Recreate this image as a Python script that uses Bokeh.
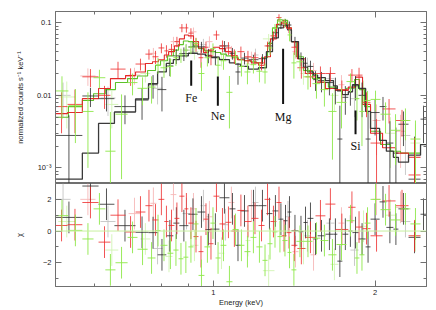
import numpy as np
from bokeh.plotting import figure
from bokeh.layouts import column
from bokeh.models import (Range1d, FixedTicker, CustomJSTickFormatter, LogAxis,
                          LinearAxis, Span)
from bokeh.core.properties import value
from bokeh.embed import file_html
from bokeh.resources import INLINE

# ---------------- data ----------------
# black spectrum: bin edges (keV), model, data, 1-sigma error, residual chi
blk_edges = [0.508, 0.570, 0.611, 0.654, 0.716, 0.757, 0.787, 0.817, 0.842, 0.864, 0.898,
             0.934, 0.966, 0.991, 1.026, 1.071, 1.099, 1.123, 1.162, 1.213, 1.255, 1.288,
             1.321, 1.350, 1.374, 1.397, 1.440, 1.471, 1.497, 1.535, 1.563, 1.616, 1.673,
             1.701, 1.738, 1.783, 1.815, 1.863, 1.920, 1.961, 2.039, 2.099, 2.163, 2.210,
             2.308, 2.430, 2.493]
blk_model = [0.0007, 0.0016, 0.0041, 0.0059, 0.0089, 0.0145, 0.021, 0.0275, 0.031, 0.035,
             0.038, 0.037, 0.035, 0.033, 0.031, 0.028, 0.027, 0.025, 0.023, 0.024,
             0.040, 0.062, 0.085, 0.092, 0.080, 0.055, 0.032, 0.0245, 0.021, 0.019,
             0.0175, 0.016, 0.0135, 0.0115, 0.0102, 0.0112, 0.0140, 0.0125, 0.0060, 0.0035,
             0.0024, 0.0017, 0.0014, 0.0012, 0.0015, 0.0021]
blk_data = [0.0028, 0.0098, 0.0090, 0.0070, 0.0086, 0.0140, 0.0120, 0.0254, 0.0350, 0.0377,
            0.0465, 0.0466, 0.0357, 0.0340, 0.0480, 0.0380, 0.0210, 0.0326, 0.0310, 0.0320,
            0.0480, 0.0730, 0.0930, 0.1000, 0.0930, 0.0550, 0.0320, 0.0277, 0.0250, 0.0165,
            0.0160, 0.0150, 0.0125, 0.0025, 0.0094, 0.0112, 0.0135, 0.0100, 0.0025, 0.0058,
            0.0070, 0.0022, 0.0016, 0.0040, 0.0007, 0.0047]
blk_err = [0.0025, 0.0029, 0.0030, 0.0030, 0.0040, 0.0050, 0.0060, 0.0070, 0.0080, 0.0080,
           0.0080, 0.0080, 0.0080, 0.0080, 0.0080, 0.0070, 0.0070, 0.0060, 0.0050, 0.0050,
           0.0070, 0.0090, 0.0110, 0.0120, 0.0110, 0.0090, 0.0070, 0.0060, 0.0050, 0.0050,
           0.0050, 0.0050, 0.0050, 0.0047, 0.0040, 0.0040, 0.0050, 0.0050, 0.0035, 0.0030,
           0.0025, 0.0022, 0.0020, 0.0020, 0.0020, 0.0025]
blk_chi = [0.86, 2.84, 1.69, 0.34, -0.08, -0.10, -1.50, -0.30, 0.50, 0.34,
           1.06, 1.20, 0.09, 0.12, 2.10, 1.40, -0.90, 1.27, 1.60, 1.60,
           1.10, 1.27, 0.75, 0.65, 1.20, 0.02, -0.04, 0.54, 0.80, -0.50,
           -0.30, -0.20, -0.20, -1.90, -0.20, 0.00, -0.10, -0.50, -1.00, 0.75,
           1.84, 0.23, 0.12, 1.40, -0.40, 1.06]

# red spectrum
red_edges = [0.508, 0.535, 0.570, 0.611, 0.643, 0.686, 0.716, 0.747, 0.770, 0.790, 0.810,
             0.825, 0.846, 0.864, 0.883, 0.898, 0.918, 0.938, 0.958, 0.979, 1.000, 1.026,
             1.053, 1.080, 1.108, 1.142, 1.177, 1.213, 1.245, 1.277, 1.310, 1.339, 1.368,
             1.397, 1.433, 1.483, 1.549, 1.616, 1.687, 1.783, 1.839, 1.895, 1.961, 2.065,
             2.183, 2.308, 2.430]
red_model = [0.0056, 0.0058, 0.0090, 0.0124, 0.0170, 0.0188, 0.0210, 0.0275, 0.0290, 0.0310,
             0.0360, 0.0400, 0.0480, 0.0600, 0.0680, 0.0660, 0.0550, 0.0450, 0.0390, 0.0420,
             0.0460, 0.0440, 0.0400, 0.0350, 0.0310, 0.0300, 0.0280, 0.0260, 0.0340, 0.0600,
             0.0950, 0.1020, 0.0850, 0.0550, 0.0320, 0.0200, 0.0152, 0.0124, 0.0117, 0.0130,
             0.0178, 0.0075, 0.0030, 0.0019, 0.0016, 0.0014]
red_data = [0.0070, 0.0075, 0.0180, 0.0100, 0.0230, 0.0185, 0.0270, 0.0370, 0.0340, 0.0450,
            0.0410, 0.0430, 0.0550, 0.0850, 0.0850, 0.0720, 0.0510, 0.0330, 0.0460, 0.0350,
            0.0680, 0.0480, 0.0450, 0.0350, 0.0400, 0.0340, 0.0330, 0.0280, 0.0480, 0.0660,
            0.1180, 0.0980, 0.0840, 0.0460, 0.0240, 0.0180, 0.0200, 0.0200, 0.0120, 0.0190,
            0.0190, 0.0080, 0.0022, 0.0065, 0.0045, 0.0008]
red_err = [0.0040, 0.0045, 0.0050, 0.0035, 0.0060, 0.0050, 0.0050, 0.0060, 0.0070, 0.0070,
           0.0080, 0.0080, 0.0090, 0.0110, 0.0120, 0.0120, 0.0110, 0.0090, 0.0090, 0.0090,
           0.0100, 0.0090, 0.0090, 0.0080, 0.0070, 0.0070, 0.0060, 0.0060, 0.0070, 0.0100,
           0.0130, 0.0130, 0.0120, 0.0100, 0.0070, 0.0050, 0.0050, 0.0045, 0.0040, 0.0040,
           0.0050, 0.0030, 0.0025, 0.0024, 0.0018, 0.0018]
red_chi = [0.35, 0.40, 1.80, -0.70, 1.00, -0.06, 1.20, 1.60, 0.70, 2.00,
           0.60, 0.35, 0.80, 2.20, 1.40, 0.50, -0.35, -1.30, 0.75, -0.80,
           2.20, 0.45, 0.55, 0.00, 1.30, 0.60, 0.80, 0.35, 2.00, 0.60,
           1.80, -0.30, -0.10, -0.90, -1.10, -0.40, 0.96, 1.70, 0.10, 1.50,
           0.25, 0.15, -0.30, 1.90, 1.60, -0.30]

# green spectrum
grn_edges = [0.508, 0.537, 0.570, 0.598, 0.629, 0.657, 0.692, 0.722, 0.754, 0.780, 0.797,
             0.821, 0.842, 0.861, 0.879, 0.898, 0.918, 0.938, 0.962, 0.987, 1.009, 1.031,
             1.057, 1.085, 1.113, 1.142, 1.172, 1.202, 1.234, 1.261, 1.288, 1.316, 1.344,
             1.374, 1.397, 1.427, 1.471, 1.529, 1.582, 1.637, 1.695, 1.769, 1.831, 1.870,
             1.911, 1.961, 2.047, 2.137, 2.230, 2.327, 2.430]
grn_model = [0.0050, 0.0070, 0.0085, 0.0105, 0.0120, 0.0150, 0.0170, 0.0185, 0.0220, 0.0260,
             0.0300, 0.0350, 0.0420, 0.0500, 0.0560, 0.0550, 0.0480, 0.0440, 0.0410, 0.0400,
             0.0390, 0.0370, 0.0350, 0.0330, 0.0310, 0.0300, 0.0290, 0.0280, 0.0330, 0.0520,
             0.0850, 0.1100, 0.1080, 0.0850, 0.0550, 0.0340, 0.0220, 0.0170, 0.0150, 0.0130,
             0.0118, 0.0125, 0.0165, 0.0120, 0.0070, 0.0032, 0.0021, 0.0017, 0.0016, 0.0016]
grn_data = [0.0115, 0.0072, 0.0060, 0.0175, 0.0017, 0.0055, 0.0150, 0.0125, 0.0130, 0.0262,
            0.0240, 0.0250, 0.0330, 0.0360, 0.0420, 0.0460, 0.0520, 0.0200, 0.0330, 0.0440,
            0.0260, 0.0300, 0.0110, 0.0340, 0.0250, 0.0210, 0.0265, 0.0215, 0.0210, 0.0450,
            0.0840, 0.1050, 0.1000, 0.0680, 0.0280, 0.0290, 0.0180, 0.0145, 0.0120, 0.0060,
            0.0080, 0.0155, 0.0090, 0.0060, 0.0085, 0.0088, 0.0055, 0.0033, 0.0045, 0.0025]
grn_err = [0.0068, 0.0050, 0.0050, 0.0050, 0.0042, 0.0048, 0.0050, 0.0052, 0.0053, 0.0065,
           0.0066, 0.0070, 0.0075, 0.0080, 0.0085, 0.0090, 0.0090, 0.0085, 0.0080, 0.0080,
           0.0078, 0.0075, 0.0075, 0.0070, 0.0068, 0.0068, 0.0065, 0.0064, 0.0065, 0.0090,
           0.0120, 0.0140, 0.0140, 0.0125, 0.0110, 0.0075, 0.0060, 0.0055, 0.0050, 0.0047,
           0.0045, 0.0045, 0.0045, 0.0040, 0.0030, 0.0028, 0.0025, 0.0022, 0.0021, 0.0020]
grn_chi = [0.97, 0.04, -0.50, 1.40, -2.45, -2.00, -0.40, -1.15, -1.70, 0.03,
           -0.90, -1.40, -1.20, -1.75, -1.65, -1.00, 0.45, -2.80, -1.00, 0.50,
           -1.70, -0.90, -3.20, 0.10, -0.90, -1.30, -0.40, -1.00, -1.85, -0.80,
           -0.05, -0.35, -0.60, -1.35, -2.45, -0.65, -0.65, -0.45, -0.60, -1.50,
           -0.85, 0.65, -1.70, -1.50, 0.50, 2.00, 1.35, 0.70, 1.40, 0.45]

# faint (second data group) points: bin low / high edge, data, error, chi
gry_lo = [0.508, 0.616, 0.770, 0.876, 0.946, 1.039, 1.182, 1.362, 1.477, 1.623, 1.799, 2.230]
gry_hi = [0.542, 0.657, 0.804, 0.906, 0.970, 1.066, 1.213, 1.391, 1.516, 1.680, 1.863, 2.327]
gry_data = [0.0100, 0.0092, 0.0125, 0.0420, 0.0500, 0.0400, 0.0360, 0.0950, 0.0260, 0.0170, 0.0090, 0.0028]
gry_err = [0.005, 0.004, 0.005, 0.009, 0.010, 0.009, 0.008, 0.013, 0.007, 0.005, 0.004, 0.002]
gry_chi = [2.0, 0.6, -1.1, 1.1, 1.6, 0.4, 1.8, 0.9, -0.3, 0.5, -1.2, 0.6]

pnk_lo = [0.565, 0.695, 0.763, 0.832, 0.906, 0.970, 1.066, 1.162, 1.403, 1.516, 1.709, 1.978, 2.183]
pnk_hi = [0.603, 0.731, 0.783, 0.853, 0.930, 0.996, 1.094, 1.192, 1.440, 1.556, 1.754, 2.047, 2.279]
pnk_data = [0.0185, 0.0190, 0.0380, 0.0550, 0.0750, 0.0550, 0.0400, 0.0330, 0.0400, 0.0220, 0.0140, 0.0045, 0.0032]
pnk_err = [0.005, 0.005, 0.007, 0.009, 0.011, 0.010, 0.008, 0.007, 0.008, 0.006, 0.005, 0.003, 0.0022]
pnk_chi = [2.0, 1.1, 1.75, 2.3, 1.4, 0.9, 1.8, 1.6, -1.3, -1.5, 0.5, 2.0, 1.5]

lgr_lo = [0.514, 0.629, 0.731, 0.814, 0.906, 1.022, 1.147, 1.236, 1.452, 1.651, 1.878, 2.091, 2.327]
lgr_hi = [0.553, 0.665, 0.763, 0.839, 0.938, 1.048, 1.172, 1.299, 1.490, 1.709, 1.928, 2.183, 2.430]
lgr_data = [0.0095, 0.0075, 0.0200, 0.0310, 0.0400, 0.0320, 0.0270, 0.0600, 0.0200, 0.0100, 0.0120, 0.0030, 0.0022]
lgr_err = [0.006, 0.004, 0.005, 0.007, 0.009, 0.007, 0.006, 0.010, 0.006, 0.004, 0.004, 0.002, 0.0018]
lgr_chi = [0.6, -1.2, -0.5, -1.6, -0.9, -1.4, -0.6, -2.5, -1.1, -2.1, 0.3, 1.0, -0.3]

# emission-line markers
line_names = ["Fe", "Ne", "Mg", "Si"]
line_energy = [0.909, 1.019, 1.348, 1.839]
line_top = [0.0302, 0.0182, 0.0438, 0.0062]
line_bottom = [0.0136, 0.0072, 0.0076, 0.0029]
line_label_y = [0.0093, 0.0052, 0.0051, 0.0020]

# axis ticks
x_ticks = [1.0, 2.0]
x_tick_labels = ["1", "2"]
x_minor = [0.5, 0.6, 0.7, 0.8, 0.9]
y_ticks = [0.001, 0.01, 0.1]
y_tick_labels = ["10\u207b\u00b3", "0.01", "0.1"]
y_minor = [m * d for d in (1e-4, 1e-3, 1e-2) for m in range(2, 10)]
r_ticks = [-2, 0, 2]
r_tick_labels = ["\u22122", "0", "2"]
r_minor = [-3, -1, 1, 3]

# ---------------- styling ----------------
FONT = "Liberation Sans"
AXC = "#707070"
XR = Range1d(0.508, 2.493)

LABEL_CODE = """
for (let i = 0; i < vals.length; i++) {
  if (Math.abs(tick / vals[i] - 1) < 1e-6 || (vals[i] == 0 && Math.abs(tick) < 1e-9)) { return labs[i]; }
}
return "";
"""


def make_axis(cls, ticks, minor, labels=None, title=None, title_standoff=0, lab_standoff=4):
    ax = cls(ticker=FixedTicker(ticks=ticks, minor_ticks=minor))
    ax.axis_line_color = AXC
    ax.major_tick_line_color = AXC
    ax.minor_tick_line_color = AXC
    ax.major_tick_in = 6
    ax.major_tick_out = 0
    ax.minor_tick_in = 3
    ax.minor_tick_out = 0
    if labels is None:
        ax.formatter = CustomJSTickFormatter(code="return '';")
        ax.major_label_text_font_size = "0px"
        ax.major_label_standoff = 0
    else:
        ax.formatter = CustomJSTickFormatter(args=dict(vals=ticks, labs=labels), code=LABEL_CODE)
        ax.major_label_text_font = FONT
        ax.major_label_text_font_size = "7.5px"
        ax.major_label_text_color = "#222222"
        ax.major_label_standoff = lab_standoff
    if title:
        ax.axis_label = title
        ax.axis_label_text_font = FONT
        ax.axis_label_text_font_size = "7.5px"
        ax.axis_label_text_font_style = "normal"
        ax.axis_label_text_color = "#222222"
        ax.axis_label_standoff = title_standoff
    return ax


def base_fig(height, y_type, y_range, top_b, bot_b):
    p = figure(width=436, height=height, x_axis_type="log", y_axis_type=y_type,
               x_range=XR, y_range=y_range, output_backend="svg", toolbar_location=None,
               x_axis_location=None, y_axis_location=None,
               min_border_left=55, min_border_right=10, min_border_top=top_b,
               min_border_bottom=bot_b)
    p.grid.visible = False
    p.outline_line_color = AXC
    p.background_fill_color = "white"
    p.border_fill_color = "white"
    return p


top = base_fig(183, "log", Range1d(6.1e-4, 0.143), 11, 0)
res = base_fig(127, "linear", Range1d(-3.5, 3.0), 0, 24)

top.add_layout(make_axis(LogAxis, y_ticks, y_minor, y_tick_labels,
                         "normalized counts s\u207b\u00b9 keV\u207b\u00b9", 9), "left")
top.add_layout(make_axis(LogAxis, y_ticks, y_minor), "right")
top.add_layout(make_axis(LogAxis, x_ticks, x_minor), "above")

res.add_layout(make_axis(LinearAxis, r_ticks, r_minor, r_tick_labels, "\u03c7", 16), "left")
res.add_layout(make_axis(LinearAxis, r_ticks, r_minor), "right")
res.add_layout(make_axis(LogAxis, x_ticks, x_minor, x_tick_labels, "Energy (keV)", 0, 3), "below")

res.add_layout(Span(location=0, dimension="width", line_color="#c8f0a0", line_width=1))


def crosses(lo, hi, data, err, chi, color, alpha, lw=1.0):
    lo = np.asarray(lo, float)
    hi = np.asarray(hi, float)
    d = np.asarray(data, float)
    e = np.asarray(err, float)
    c = np.asarray(chi, float)
    mid = np.sqrt(lo * hi)
    low = np.where(d - e > 0, d - e, 1e-5)
    top.segment(lo, d, hi, d, line_color=color, line_alpha=alpha, line_width=lw)
    top.segment(mid, low, mid, d + e, line_color=color, line_alpha=alpha, line_width=lw)
    res.segment(lo, c, hi, c, line_color=color, line_alpha=alpha, line_width=lw)
    res.segment(mid, c - 1, mid, c + 1, line_color=color, line_alpha=alpha, line_width=lw)


def model_step(edges, model, color, lw):
    xs, ys = [], []
    for i, m in enumerate(model):
        xs += [edges[i], edges[i + 1]]
        ys += [m, m]
    top.line(xs, ys, line_color=color, line_width=lw)


# faint data group
crosses(gry_lo, gry_hi, gry_data, gry_err, gry_chi, "#c4c4c4", 0.9)
crosses(pnk_lo, pnk_hi, pnk_data, pnk_err, pnk_chi, "#f6b8b8", 0.9)
crosses(lgr_lo, lgr_hi, lgr_data, lgr_err, lgr_chi, "#d2f4b4", 0.9)

# models
model_step(grn_edges, grn_model, "#5cc22a", 1.1)
model_step(red_edges, red_model, "#e22a2a", 1.1)
model_step(blk_edges, blk_model, "#3a3a3a", 1.3)

# main data groups
crosses(blk_edges[:-1], blk_edges[1:], blk_data, blk_err, blk_chi, "#2a2a2a", 0.8)
crosses(red_edges[:-1], red_edges[1:], red_data, red_err, red_chi, "#ee2a2a", 0.8)
crosses(grn_edges[:-1], grn_edges[1:], grn_data, grn_err, grn_chi, "#8ee84a", 0.9)

# emission-line markers
top.segment(line_energy, line_bottom, line_energy, line_top, line_color="#111111", line_width=2)
top.text(line_energy, line_label_y, text=line_names, text_font=value("Liberation Serif"),
         text_font_size="12px", text_align="center", text_baseline="middle", text_color="#111111")

layout = column(top, res, spacing=0)
open("out.html", "w").write(file_html(layout, INLINE))
